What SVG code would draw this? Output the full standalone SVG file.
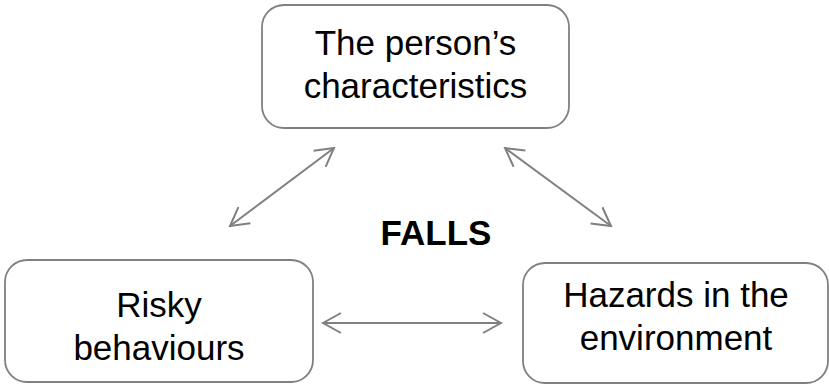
<svg xmlns="http://www.w3.org/2000/svg" width="829" height="386" viewBox="0 0 829 386">
<style>
.box{fill:#fff;stroke:#808080;stroke-width:1.8}
.t{font-family:"Liberation Sans",Arial,sans-serif;font-size:35px;fill:#000;text-anchor:middle}
.b{font-family:"Liberation Sans",Arial,sans-serif;font-size:35px;font-weight:bold;fill:#000;text-anchor:middle}
.c{stroke:#808080;stroke-width:2;fill:none}
</style>
<defs>
<marker id="ah" markerUnits="userSpaceOnUse" viewBox="-22 -12 24 24" markerWidth="24" markerHeight="24" refX="0" refY="0" orient="auto-start-reverse">
<path d="M-18,-10 L0,0 L-18,10" fill="none" stroke="#808080" stroke-width="2"/>
</marker>
</defs>
<rect width="829" height="386" fill="#fff"/>
<g id="person">
<rect class="box" x="262" y="5" width="307" height="123" rx="22"/>
<text class="t" x="415.5" y="55">The person’s</text>
<text class="t" x="415.5" y="98">characteristics</text>
</g>
<g id="risky">
<rect class="box" x="5" y="260" width="308" height="122" rx="22"/>
<text class="t" x="159" y="317">Risky</text>
<text class="t" x="159" y="360">behaviours</text>
</g>
<g id="hazards">
<rect class="box" x="523" y="263" width="305" height="120" rx="22"/>
<text class="t" x="676" y="307">Hazards in the</text>
<text class="t" x="676" y="350">environment</text>
</g>
<g id="falls">
<text class="b" x="436" y="245">FALLS</text>
</g>
<g id="connectors">
<line class="c" x1="230" y1="226" x2="334" y2="148" marker-start="url(#ah)" marker-end="url(#ah)"/>
<line class="c" x1="505" y1="148" x2="611" y2="226" marker-start="url(#ah)" marker-end="url(#ah)"/>
<line class="c" x1="323" y1="323" x2="501" y2="323" marker-start="url(#ah)" marker-end="url(#ah)"/>
</g>
</svg>
